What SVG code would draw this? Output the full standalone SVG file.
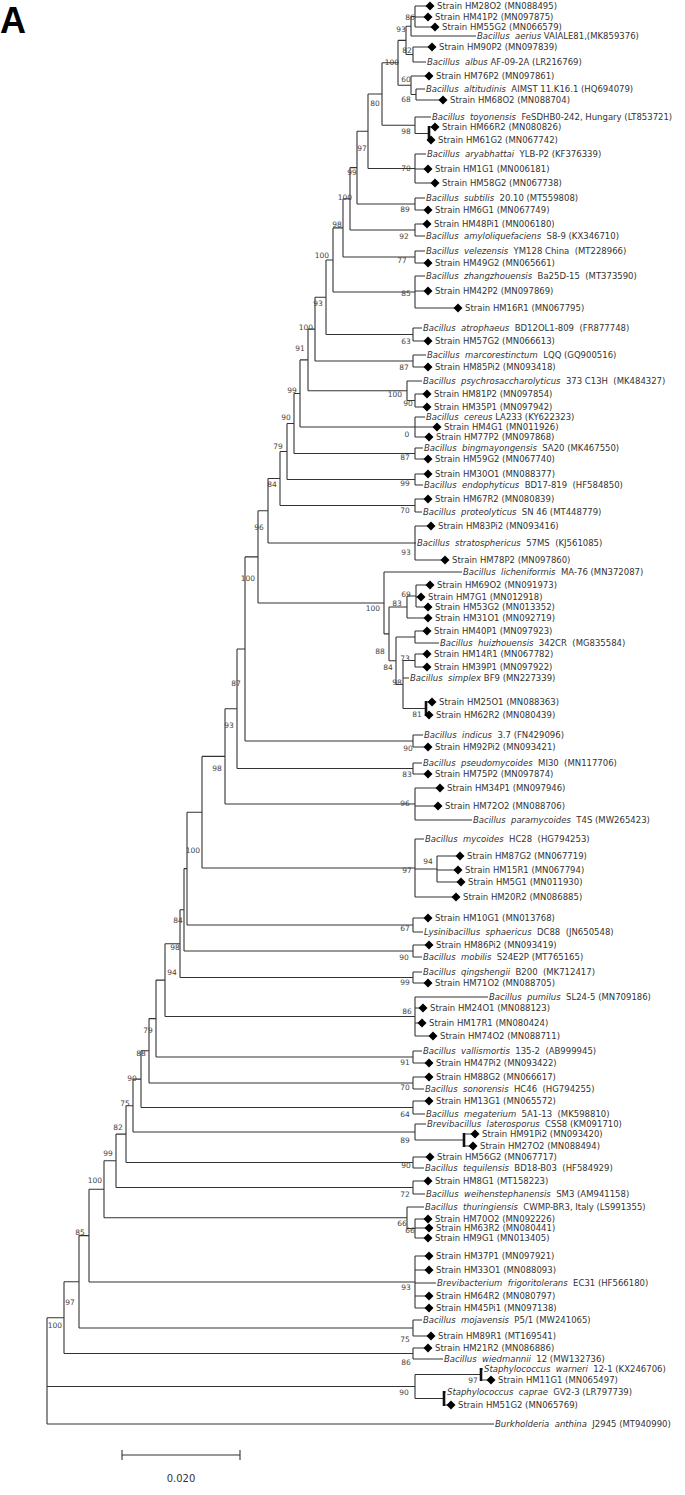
<svg xmlns="http://www.w3.org/2000/svg" xmlns:xlink="http://www.w3.org/1999/xlink" width="685" height="1495" viewBox="0 0 685 1495">
<style>
.e{fill:none;stroke:#333;stroke-width:1.1}
.k{fill:none;stroke:#111;stroke-width:2.6}
.t{font-family:"DejaVu Sans",Verdana,sans-serif;font-size:8.5px;fill:#333;white-space:pre}
.i{font-style:italic}
.b{font-family:"DejaVu Sans",Verdana,sans-serif;font-size:7.5px;fill:#444;text-anchor:middle}
.dm{fill:#000}
</style>
<defs><path id="d" class="dm" d="M0,-4.5L4.5,0L0,4.5L-4.5,0Z"/></defs>
<rect width="685" height="1495" fill="#fff"/>
<text x="0" y="33" font-family="Liberation Sans,Arial,sans-serif" font-size="36" font-weight="bold">A</text>
<g id="edges">
<path class="e" d="M415,6V27M415,6H430M415,17H428M415,27H435
M411,16.5V36M411,16.5H415M411,36H476
M413,47V62M413,47H432M413,62H426
M406,26.25V54.5M406,26.25H411M406,54.5H413
M416,89V100M416,89H425M416,100H443
M411,76V94.5M411,76H429M411,94.5H416
M398,40.4V85.25M398,40.4H406M398,85.25H411
M429,127H435M429,140H431
M415,117V133.5M415,117H431M415,133.5H429
M382,62.8V125.25M382,62.8H398M382,125.25H415
M415,154V183M415,154H426M415,169H428M415,183H435
M368,94V168.5M368,94H382M368,168.5H415
M415,198V210M415,198H425M415,210H428
M357,131.3V204M357,131.3H368M357,204H415
M415,224V236M415,224H427M415,236H425
M350,167.6V230M350,167.6H357M350,230H415
M415,251V263M415,251H425M415,263H428
M343,198.8V257M343,198.8H350M343,257H415
M415,276V308M415,276H425M415,291H428M415,308H458
M333,227.9V292M333,227.9H343M333,292H415
M413,328V341M413,328H422M413,341H428
M326,260V334.5M326,260H333M326,334.5H413
M413,355V367M413,355H426M413,367H428
M315,297.2V361M315,297.2H326M315,361H413
M415,394V407M415,394H427M415,407H427
M407,381V400.5M407,381H422M407,400.5H415
M308,329.1V390.75M308,329.1H315M308,390.75H407
M415,417V437M415,417H425M415,427H437M415,437H429
M300,359.9V427M300,359.9H308M300,427H415
M415,448V459M415,448H423M415,459H428
M294,393.5V453.5M294,393.5H300M294,453.5H415
M415,474V485M415,474H428M415,485H423
M287,423.5V479.5M287,423.5H294M287,479.5H415
M415,499V512M415,499H428M415,512H422
M280,451.5V505.5M280,451.5H287M280,505.5H415
M415,526V560M415,526H431M415,543H416M415,560H445
M268,478.5V543M268,478.5H280M268,543H415
M416,585V607M416,585H430M416,597H421M416,607H428
M407,596V618M407,596H416M407,618H428
M415,631V643M415,631H427M415,643H439
M415,654V667M415,654H427M415,667H427
M426,702H432M426,715H429
M403,660.5V708.5M403,660.5H415M403,678H409M403,708.5H426
M396,637V684.5M396,637H415M396,684.5H403
M389,607V660.75M389,607H407M389,660.75H396
M384,572V633.9M384,572H462M384,633.9H389
M258,510.75V603M258,510.75H268M258,603H384
M413,735V747M413,735H423M413,747H428
M245,556.9V741M245,556.9H258M245,741H413
M413,763V774M413,763H422M413,774H428
M237,649V768.5M237,649H245M237,768.5H413
M415,788V820M415,788H440M415,806H438M415,820H472
M225,708.75V804M225,708.75H237M225,804H415
M437,856V882M437,856H460M437,870H458M437,882H461
M415,839V897M415,839H424M415,869H437M415,897H456
M202,756.4V868M202,756.4H225M202,868H415
M413,918V932M413,918H428M413,932H423
M187,812.2V925M187,812.2H202M187,925H413
M413,945V957M413,945H429M413,957H422
M184,868.6V951M184,868.6H187M184,951H413
M413,972V983M413,972H422M413,983H428
M180,909.8V977.5M180,909.8H184M180,977.5H413
M415,997V1036M415,997H488M415,1008H423M415,1023H422M415,1036H433
M165,943.7V1016.5M165,943.7H180M165,1016.5H415
M413,1051V1063M413,1051H422M413,1063H429
M156,980.1V1057M156,980.1H165M156,1057H413
M413,1077V1089M413,1077H429M413,1089H424
M149,1018.6V1083M149,1018.6H156M149,1083H413
M413,1101V1114M413,1101H429M413,1114H425
M141,1050.8V1107.5M141,1050.8H149M141,1107.5H413
M464,1134H475M464,1146H473
M415,1124V1140M415,1124H426M415,1140H464
M133,1079.1V1132M133,1079.1H141M133,1132H415
M413,1157V1168M413,1157H430M413,1168H424
M126,1105.8V1162.5M126,1105.8H133M126,1162.5H413
M413,1181V1194M413,1181H428M413,1194H425
M116,1134.1V1187.5M116,1134.1H126M116,1187.5H413
M415,1219V1238M415,1219H428M415,1228H429M415,1238H428
M407,1207V1228.5M407,1207H424M407,1228.5H415
M104,1160.8V1217.75M104,1160.8H116M104,1217.75H407
M415,1256V1308M415,1256H429M415,1270H429M415,1283H436M415,1296H429M415,1308H429
M89,1189.3V1282M89,1189.3H104M89,1282H415
M413,1320V1336M413,1320H422M413,1336H431
M79,1235.6V1328M79,1235.6H89M79,1328H413
M413,1348V1359M413,1348H428M413,1359H443
M64,1281.8V1353.5M64,1281.8H79M64,1353.5H413
M481,1369H483M481,1380H491
M444,1392H446M444,1405H451
M415,1374.5V1398.5M415,1374.5H481M415,1398.5H444
M47,1317.7V1424M47,1317.7H64M47,1386.5H415M47,1424H494"/>
<path class="k" d="M429,126V141M426,701V716M464,1133V1147M481,1368V1381M444,1391V1406"/>
</g>
<g id="bootstrap">
<text class="b" x="410" y="19.7">86</text><text class="b" x="401" y="31.7">93</text><text class="b" x="407" y="52.7">82</text><text class="b" x="392" y="64.7">100</text><text class="b" x="406" y="81.7">60</text><text class="b" x="406" y="101.7">68</text><text class="b" x="375" y="105.7">80</text><text class="b" x="406" y="133.7">98</text>
<text class="b" x="362" y="150.7">97</text><text class="b" x="406" y="170.7">70</text><text class="b" x="352" y="174.7">99</text><text class="b" x="345" y="199.7">100</text><text class="b" x="405" y="211.7">89</text><text class="b" x="337" y="226.7">98</text><text class="b" x="404" y="238.7">92</text>
<text class="b" x="322" y="257.7">100</text><text class="b" x="402" y="262.7">77</text><text class="b" x="406" y="295.7">85</text><text class="b" x="318" y="305.7">93</text><text class="b" x="306" y="329.7">100</text><text class="b" x="406" y="343.7">63</text><text class="b" x="300" y="350.7">91</text><text class="b" x="404" y="369.7">87</text>
<text class="b" x="292" y="392.7">99</text><text class="b" x="395" y="396.7">100</text><text class="b" x="408" y="405.7">90</text><text class="b" x="286" y="419.7">90</text><text class="b" x="407" y="436.7">0</text><text class="b" x="278" y="448.7">79</text><text class="b" x="405" y="459.7">87</text><text class="b" x="272" y="486.7">84</text><text class="b" x="405" y="485.7">99</text>
<text class="b" x="405" y="512.7">70</text><text class="b" x="259" y="529.7">96</text><text class="b" x="406" y="554.7">93</text><text class="b" x="248" y="580.7">100</text><text class="b" x="406" y="596.7">69</text><text class="b" x="397" y="605.7">83</text><text class="b" x="373" y="610.7">100</text>
<text class="b" x="380" y="653.7">88</text><text class="b" x="405" y="660.7">73</text><text class="b" x="388" y="669.7">84</text><text class="b" x="397" y="684.7">98</text><text class="b" x="236" y="685.7">87</text><text class="b" x="417" y="716.7">81</text><text class="b" x="229" y="727.7">93</text><text class="b" x="408" y="750.7">90</text>
<text class="b" x="217" y="770.7">98</text><text class="b" x="407" y="776.7">83</text><text class="b" x="405" y="805.7">96</text><text class="b" x="193" y="852.7">100</text><text class="b" x="428" y="863.7">94</text><text class="b" x="407" y="872.7">97</text>
<text class="b" x="178" y="922.7">84</text><text class="b" x="405" y="930.7">67</text><text class="b" x="175" y="949.7">98</text><text class="b" x="404" y="959.7">90</text><text class="b" x="172" y="974.7">94</text><text class="b" x="405" y="984.7">99</text>
<text class="b" x="407" y="1013.7">86</text><text class="b" x="148" y="1032.7">79</text><text class="b" x="141" y="1055.7">88</text><text class="b" x="405" y="1064.7">91</text><text class="b" x="132" y="1080.7">90</text><text class="b" x="405" y="1089.7">70</text><text class="b" x="125" y="1105.7">75</text><text class="b" x="405" y="1116.7">64</text>
<text class="b" x="118" y="1129.7">82</text><text class="b" x="405" y="1142.7">89</text><text class="b" x="108" y="1155.7">99</text><text class="b" x="406" y="1167.7">90</text><text class="b" x="95" y="1182.7">100</text><text class="b" x="405" y="1196.7">72</text><text class="b" x="402" y="1225.7">66</text><text class="b" x="410" y="1232.7">66</text>
<text class="b" x="80" y="1234.7">85</text><text class="b" x="406" y="1289.7">93</text><text class="b" x="70" y="1304.7">97</text><text class="b" x="55" y="1327.7">100</text><text class="b" x="405" y="1341.7">75</text><text class="b" x="406" y="1364.7">86</text><text class="b" x="473" y="1382.7">97</text><text class="b" x="404" y="1394.7">90</text>
</g>
<g id="leaves">
<g id="L1"><use href="#d" x="430" y="6"/><text class="t" x="437" y="9">Strain HM28O2 (MN088495)</text></g>
<g id="L2"><use href="#d" x="428" y="17"/><text class="t" x="435" y="20">Strain HM41P2 (MN097875)</text></g>
<g id="L3"><use href="#d" x="435" y="27"/><text class="t" x="442" y="30">Strain HM55G2 (MN066579)</text></g>
<g id="L4"><text class="t" x="477" y="39"><tspan class="i">Bacillus  aerius</tspan> VAIALE81,(MK859376)</text></g>
<g id="L5"><use href="#d" x="432" y="47"/><text class="t" x="439" y="50">Strain HM90P2 (MN097839)</text></g>
<g id="L6"><text class="t" x="427" y="65"><tspan class="i">Bacillus  albus</tspan> AF-09-2A (LR216769)</text></g>
<g id="L7"><use href="#d" x="429" y="76"/><text class="t" x="436" y="79">Strain HM76P2 (MN097861)</text></g>
<g id="L8"><text class="t" x="426" y="92"><tspan class="i">Bacillus  altitudinis</tspan>  AIMST 11.K16.1 (HQ694079)</text></g>
<g id="L9"><use href="#d" x="443" y="100"/><text class="t" x="450" y="103">Strain HM68O2 (MN088704)</text></g>
<g id="L10"><text class="t" x="432" y="120"><tspan class="i">Bacillus  toyonensis</tspan>  FeSDHB0-242, Hungary (LT853721)</text></g>
<g id="L11"><use href="#d" x="435" y="127"/><text class="t" x="442" y="130">Strain HM66R2 (MN080826)</text></g>
<g id="L12"><use href="#d" x="431" y="140"/><text class="t" x="438" y="143">Strain HM61G2 (MN067742)</text></g>
<g id="L13"><text class="t" x="427" y="157"><tspan class="i">Bacillus  aryabhattai</tspan>  YLB-P2 (KF376339)</text></g>
<g id="L14"><use href="#d" x="428" y="169"/><text class="t" x="435" y="172">Strain HM1G1 (MN006181)</text></g>
<g id="L15"><use href="#d" x="435" y="183"/><text class="t" x="442" y="186">Strain HM58G2 (MN067738)</text></g>
<g id="L16"><text class="t" x="426" y="201"><tspan class="i">Bacillus  subtilis</tspan>  20.10 (MT559808)</text></g>
<g id="L17"><use href="#d" x="428" y="210"/><text class="t" x="435" y="213">Strain HM6G1 (MN067749)</text></g>
<g id="L18"><use href="#d" x="427" y="224"/><text class="t" x="434" y="227">Strain HM48Pi1 (MN006180)</text></g>
<g id="L19"><text class="t" x="426" y="239"><tspan class="i">Bacillus  amyloliquefaciens</tspan>  S8-9 (KX346710)</text></g>
<g id="L20"><text class="t" x="426" y="254"><tspan class="i">Bacillus  velezensis</tspan>  YM128 China  (MT228966)</text></g>
<g id="L21"><use href="#d" x="428" y="263"/><text class="t" x="435" y="266">Strain HM49G2 (MN065661)</text></g>
<g id="L22"><text class="t" x="426" y="279"><tspan class="i">Bacillus  zhangzhouensis</tspan>  Ba25D-15  (MT373590)</text></g>
<g id="L23"><use href="#d" x="428" y="291"/><text class="t" x="435" y="294">Strain HM42P2 (MN097869)</text></g>
<g id="L24"><use href="#d" x="458" y="308"/><text class="t" x="465" y="311">Strain HM16R1 (MN067795)</text></g>
<g id="L25"><text class="t" x="423" y="331"><tspan class="i">Bacillus  atrophaeus</tspan>  BD12OL1-809  (FR877748)</text></g>
<g id="L26"><use href="#d" x="428" y="341"/><text class="t" x="435" y="344">Strain HM57G2 (MN066613)</text></g>
<g id="L27"><text class="t" x="427" y="358"><tspan class="i">Bacillus  marcorestinctum</tspan>  LQQ (GQ900516)</text></g>
<g id="L28"><use href="#d" x="428" y="367"/><text class="t" x="435" y="370">Strain HM85Pi2 (MN093418)</text></g>
<g id="L29"><text class="t" x="423" y="384"><tspan class="i">Bacillus  psychrosaccharolyticus</tspan>  373 C13H  (MK484327)</text></g>
<g id="L30"><use href="#d" x="427" y="394"/><text class="t" x="434" y="397">Strain HM81P2 (MN097854)</text></g>
<g id="L31"><use href="#d" x="427" y="407"/><text class="t" x="434" y="410">Strain HM35P1 (MN097942)</text></g>
<g id="L32"><text class="t" x="426" y="420"><tspan class="i">Bacillus  cereus</tspan> LA233 (KY622323)</text></g>
<g id="L33"><use href="#d" x="437" y="427"/><text class="t" x="444" y="430">Strain HM4G1 (MN011926)</text></g>
<g id="L34"><use href="#d" x="429" y="437"/><text class="t" x="436" y="440">Strain HM77P2 (MN097868)</text></g>
<g id="L35"><text class="t" x="424" y="451"><tspan class="i">Bacillus  bingmayongensis</tspan>  SA20 (MK467550)</text></g>
<g id="L36"><use href="#d" x="428" y="459"/><text class="t" x="435" y="462">Strain HM59G2 (MN067740)</text></g>
<g id="L37"><use href="#d" x="428" y="474"/><text class="t" x="435" y="477">Strain HM30O1 (MN088377)</text></g>
<g id="L38"><text class="t" x="424" y="488"><tspan class="i">Bacillus  endophyticus</tspan>  BD17-819  (HF584850)</text></g>
<g id="L39"><use href="#d" x="428" y="499"/><text class="t" x="435" y="502">Strain HM67R2 (MN080839)</text></g>
<g id="L40"><text class="t" x="423" y="515"><tspan class="i">Bacillus  proteolyticus</tspan>  SN 46 (MT448779)</text></g>
<g id="L41"><use href="#d" x="431" y="526"/><text class="t" x="438" y="529">Strain HM83Pi2 (MN093416)</text></g>
<g id="L42"><text class="t" x="417" y="546"><tspan class="i">Bacillus  stratosphericus</tspan>  57MS  (KJ561085)</text></g>
<g id="L43"><use href="#d" x="445" y="560"/><text class="t" x="452" y="563">Strain HM78P2 (MN097860)</text></g>
<g id="L44"><text class="t" x="463" y="575"><tspan class="i">Bacillus  licheniformis</tspan>  MA-76 (MN372087)</text></g>
<g id="L45"><use href="#d" x="430" y="585"/><text class="t" x="437" y="588">Strain HM69O2 (MN091973)</text></g>
<g id="L46"><use href="#d" x="421" y="597"/><text class="t" x="428" y="600">Strain HM7G1 (MN012918)</text></g>
<g id="L47"><use href="#d" x="428" y="607"/><text class="t" x="435" y="610">Strain HM53G2 (MN013352)</text></g>
<g id="L48"><use href="#d" x="428" y="618"/><text class="t" x="435" y="621">Strain HM31O1 (MN092719)</text></g>
<g id="L49"><use href="#d" x="427" y="631"/><text class="t" x="434" y="634">Strain HM40P1 (MN097923)</text></g>
<g id="L50"><text class="t" x="440" y="646"><tspan class="i">Bacillus  huizhouensis</tspan>  342CR  (MG835584)</text></g>
<g id="L51"><use href="#d" x="427" y="654"/><text class="t" x="434" y="657">Strain HM14R1 (MN067782)</text></g>
<g id="L52"><use href="#d" x="427" y="667"/><text class="t" x="434" y="670">Strain HM39P1 (MN097922)</text></g>
<g id="L53"><text class="t" x="410" y="681"><tspan class="i">Bacillus  simplex</tspan> BF9 (MN227339)</text></g>
<g id="L54"><use href="#d" x="432" y="702"/><text class="t" x="439" y="705">Strain HM25O1 (MN088363)</text></g>
<g id="L55"><use href="#d" x="429" y="715"/><text class="t" x="436" y="718">Strain HM62R2 (MN080439)</text></g>
<g id="L56"><text class="t" x="424" y="738"><tspan class="i">Bacillus  indicus</tspan>  3.7 (FN429096)</text></g>
<g id="L57"><use href="#d" x="428" y="747"/><text class="t" x="435" y="750">Strain HM92Pi2 (MN093421)</text></g>
<g id="L58"><text class="t" x="423" y="766"><tspan class="i">Bacillus  pseudomycoides</tspan>  MI30  (MN117706)</text></g>
<g id="L59"><use href="#d" x="428" y="774"/><text class="t" x="435" y="777">Strain HM75P2 (MN097874)</text></g>
<g id="L60"><use href="#d" x="440" y="788"/><text class="t" x="447" y="791">Strain HM34P1 (MN097946)</text></g>
<g id="L61"><use href="#d" x="438" y="806"/><text class="t" x="445" y="809">Strain HM72O2 (MN088706)</text></g>
<g id="L62"><text class="t" x="473" y="823"><tspan class="i">Bacillus  paramycoides</tspan>  T4S (MW265423)</text></g>
<g id="L63"><text class="t" x="425" y="842"><tspan class="i">Bacillus  mycoides</tspan>  HC28  (HG794253)</text></g>
<g id="L64"><use href="#d" x="460" y="856"/><text class="t" x="467" y="859">Strain HM87G2 (MN067719)</text></g>
<g id="L65"><use href="#d" x="458" y="870"/><text class="t" x="465" y="873">Strain HM15R1 (MN067794)</text></g>
<g id="L66"><use href="#d" x="461" y="882"/><text class="t" x="468" y="885">Strain HM5G1 (MN011930)</text></g>
<g id="L67"><use href="#d" x="456" y="897"/><text class="t" x="463" y="900">Strain HM20R2 (MN086885)</text></g>
<g id="L68"><use href="#d" x="428" y="918"/><text class="t" x="435" y="921">Strain HM10G1 (MN013768)</text></g>
<g id="L69"><text class="t" x="424" y="935"><tspan class="i">Lysinibacillus  sphaericus</tspan>  DC88  (JN650548)</text></g>
<g id="L70"><use href="#d" x="429" y="945"/><text class="t" x="436" y="948">Strain HM86Pi2 (MN093419)</text></g>
<g id="L71"><text class="t" x="423" y="960"><tspan class="i">Bacillus  mobilis</tspan>  S24E2P (MT765165)</text></g>
<g id="L72"><text class="t" x="423" y="975"><tspan class="i">Bacillus  qingshengii</tspan>  B200  (MK712417)</text></g>
<g id="L73"><use href="#d" x="428" y="983"/><text class="t" x="435" y="986">Strain HM71O2 (MN088705)</text></g>
<g id="L74"><text class="t" x="489" y="1000"><tspan class="i">Bacillus  pumilus</tspan>  SL24-5 (MN709186)</text></g>
<g id="L75"><use href="#d" x="423" y="1008"/><text class="t" x="430" y="1011">Strain HM24O1 (MN088123)</text></g>
<g id="L76"><use href="#d" x="422" y="1023"/><text class="t" x="429" y="1026">Strain HM17R1 (MN080424)</text></g>
<g id="L77"><use href="#d" x="433" y="1036"/><text class="t" x="440" y="1039">Strain HM74O2 (MN088711)</text></g>
<g id="L78"><text class="t" x="423" y="1054"><tspan class="i">Bacillus  vallismortis</tspan>  135-2  (AB999945)</text></g>
<g id="L79"><use href="#d" x="429" y="1063"/><text class="t" x="436" y="1066">Strain HM47Pi2 (MN093422)</text></g>
<g id="L80"><use href="#d" x="429" y="1077"/><text class="t" x="436" y="1080">Strain HM88G2 (MN066617)</text></g>
<g id="L81"><text class="t" x="425" y="1092"><tspan class="i">Bacillus  sonorensis</tspan>  HC46  (HG794255)</text></g>
<g id="L82"><use href="#d" x="429" y="1101"/><text class="t" x="436" y="1104">Strain HM13G1 (MN065572)</text></g>
<g id="L83"><text class="t" x="426" y="1117"><tspan class="i">Bacillus  megaterium</tspan>  5A1-13  (MK598810)</text></g>
<g id="L84"><text class="t" x="427" y="1127"><tspan class="i">Brevibacillus  laterosporus</tspan>  CSS8 (KM091710)</text></g>
<g id="L85"><use href="#d" x="475" y="1134"/><text class="t" x="482" y="1137">Strain HM91Pi2 (MN093420)</text></g>
<g id="L86"><use href="#d" x="473" y="1146"/><text class="t" x="480" y="1149">Strain HM27O2 (MN088494)</text></g>
<g id="L87"><use href="#d" x="430" y="1157"/><text class="t" x="437" y="1160">Strain HM56G2 (MN067717)</text></g>
<g id="L88"><text class="t" x="425" y="1171"><tspan class="i">Bacillus  tequilensis</tspan>  BD18-B03  (HF584929)</text></g>
<g id="L89"><use href="#d" x="428" y="1181"/><text class="t" x="435" y="1184">Strain HM8G1 (MT158223)</text></g>
<g id="L90"><text class="t" x="426" y="1197"><tspan class="i">Bacillus  weihenstephanensis</tspan>  SM3 (AM941158)</text></g>
<g id="L91"><text class="t" x="425" y="1210"><tspan class="i">Bacillus  thuringiensis</tspan>  CWMP-BR3, Italy (LS991355)</text></g>
<g id="L92"><use href="#d" x="428" y="1219"/><text class="t" x="435" y="1222">Strain HM70O2 (MN092226)</text></g>
<g id="L93"><use href="#d" x="429" y="1228"/><text class="t" x="436" y="1231">Strain HM63R2 (MN080441)</text></g>
<g id="L94"><use href="#d" x="428" y="1238"/><text class="t" x="435" y="1241">Strain HM9G1 (MN013405)</text></g>
<g id="L95"><use href="#d" x="429" y="1256"/><text class="t" x="436" y="1259">Strain HM37P1 (MN097921)</text></g>
<g id="L96"><use href="#d" x="429" y="1270"/><text class="t" x="436" y="1273">Strain HM33O1 (MN088093)</text></g>
<g id="L97"><text class="t" x="437" y="1286"><tspan class="i">Brevibacterium  frigoritolerans</tspan>  EC31 (HF566180)</text></g>
<g id="L98"><use href="#d" x="429" y="1296"/><text class="t" x="436" y="1299">Strain HM64R2 (MN080797)</text></g>
<g id="L99"><use href="#d" x="429" y="1308"/><text class="t" x="436" y="1311">Strain HM45Pi1 (MN097138)</text></g>
<g id="L100"><text class="t" x="423" y="1323"><tspan class="i">Bacillus  mojavensis</tspan>  P5/1 (MW241065)</text></g>
<g id="L101"><use href="#d" x="431" y="1336"/><text class="t" x="438" y="1339">Strain HM89R1 (MT169541)</text></g>
<g id="L102"><use href="#d" x="428" y="1348"/><text class="t" x="435" y="1351">Strain HM21R2 (MN086886)</text></g>
<g id="L103"><text class="t" x="444" y="1362"><tspan class="i">Bacillus  wiedmannii</tspan>  12 (MW132736)</text></g>
<g id="L104"><text class="t" x="484" y="1372"><tspan class="i">Staphylococcus  warneri</tspan>  12-1 (KX246706)</text></g>
<g id="L105"><use href="#d" x="491" y="1380"/><text class="t" x="498" y="1383">Strain HM11G1 (MN065497)</text></g>
<g id="L106"><text class="t" x="447" y="1395"><tspan class="i">Staphylococcus  caprae</tspan>  GV2-3 (LR797739)</text></g>
<g id="L107"><use href="#d" x="451" y="1405"/><text class="t" x="458" y="1408">Strain HM51G2 (MN065769)</text></g>
<g id="L108"><text class="t" x="495" y="1427"><tspan class="i">Burkholderia  anthina</tspan>  J2945 (MT940990)</text></g>
</g>
<g id="scalebar">
<path class="e" d="M122,1455H240M122,1450V1460M240,1450V1460"/>
<text x="181" y="1482" font-family="DejaVu Sans,Verdana,sans-serif" font-size="10" fill="#333" text-anchor="middle">0.020</text>
</g>
</svg>
